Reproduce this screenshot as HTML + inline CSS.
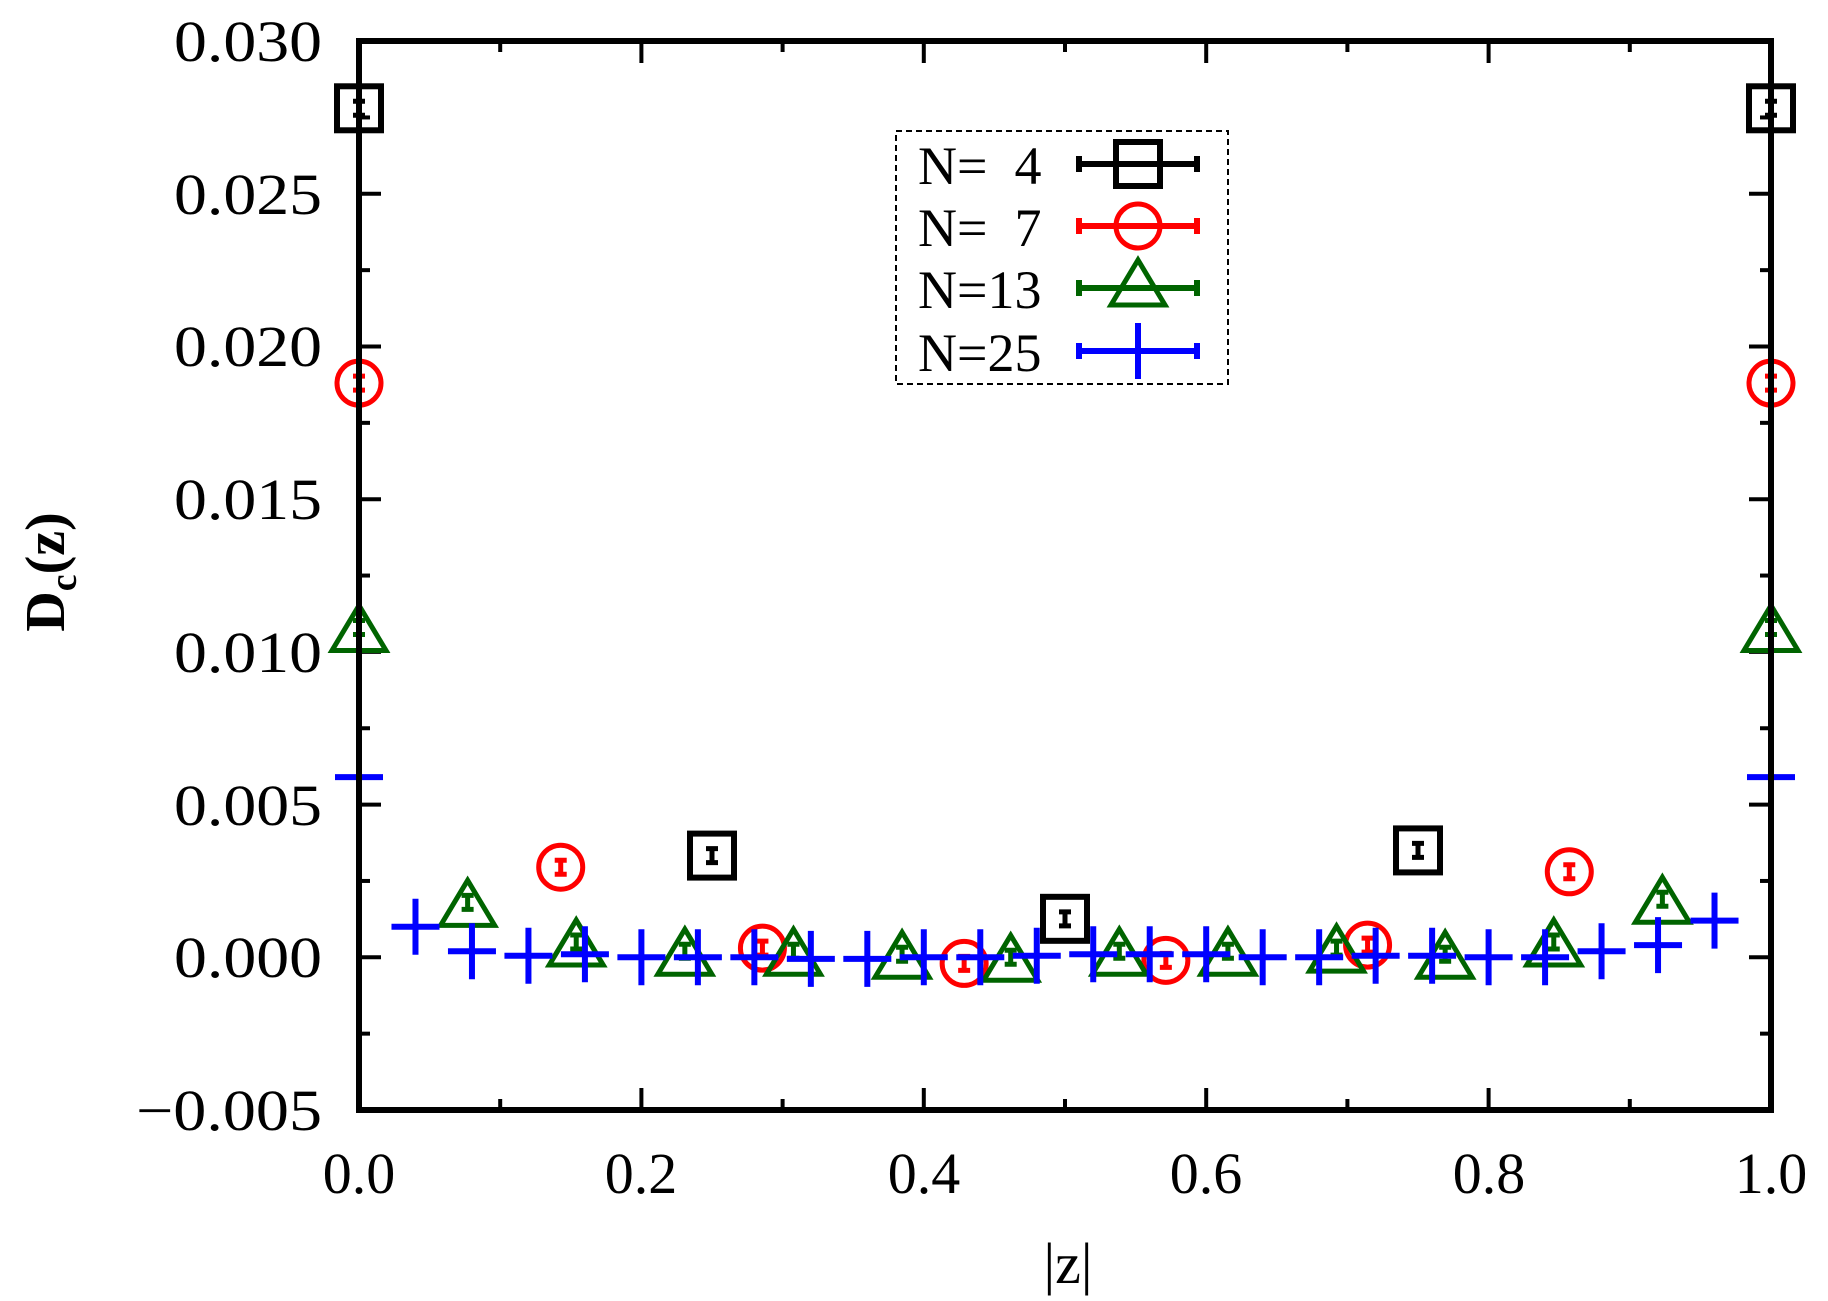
<!DOCTYPE html>
<html><head><meta charset="utf-8"><style>
html,body{margin:0;padding:0;background:#fff;}
svg{display:block;}
text{font-family:"Liberation Serif",serif;}
</style></head><body>
<svg id="s" width="1828" height="1301" viewBox="0 0 1828 1301" xmlns="http://www.w3.org/2000/svg">
<rect width="1828" height="1301" fill="#fff"/>
<g id="ticks" stroke="#000" stroke-width="4"></g>
<g font-size="58" text-anchor="end" fill="#000">
<text x="322" y="61" textLength="148" lengthAdjust="spacingAndGlyphs">0.030</text>
<text x="322" y="214" textLength="148" lengthAdjust="spacingAndGlyphs">0.025</text>
<text x="322" y="366" textLength="148" lengthAdjust="spacingAndGlyphs">0.020</text>
<text x="322" y="519" textLength="148" lengthAdjust="spacingAndGlyphs">0.015</text>
<text x="322" y="672" textLength="148" lengthAdjust="spacingAndGlyphs">0.010</text>
<text x="322" y="825" textLength="148" lengthAdjust="spacingAndGlyphs">0.005</text>
<text x="322" y="977" textLength="148" lengthAdjust="spacingAndGlyphs">0.000</text>
<text x="322" y="1130" textLength="186" lengthAdjust="spacingAndGlyphs">−0.005</text>
</g>
<g font-size="58" text-anchor="middle" fill="#000">
<text x="359" y="1193">0.0</text>
<text x="641" y="1193">0.2</text>
<text x="924" y="1193">0.4</text>
<text x="1206" y="1193">0.6</text>
<text x="1489" y="1193">0.8</text>
<text x="1771" y="1193">1.0</text>
<text x="1068" y="1283">|z|</text>
</g>
<text transform="translate(64,572) rotate(-90)" font-size="56" text-anchor="middle" font-weight="bold">D<tspan font-size="38" dy="12">c</tspan><tspan dy="-12">(z)</tspan></text>
<g id="pts"></g>
<rect x="896" y="131" width="332" height="253" fill="none" stroke="#000" stroke-width="2" stroke-dasharray="6,4"/>
<g font-size="54" fill="#000">
<text x="918" y="184" xml:space="preserve">N=  4</text>
<text x="918" y="246" xml:space="preserve">N=  7</text>
<text x="918" y="308" xml:space="preserve">N=13</text>
<text x="918" y="371" xml:space="preserve">N=25</text>
</g>
<g id="leg"></g>
<rect x="359" y="41" width="1412" height="1069" fill="none" stroke="#000" stroke-width="6"/>
</svg>
<script>
var NS="http://www.w3.org/2000/svg";
function el(p,t,a){var e=document.createElementNS(NS,t);for(var k in a)e.setAttribute(k,a[k]);p.appendChild(e);return e;}
function X(v){return 359+v*1412;}
function Y(v){return 957.3-v*30540;}
var tk=document.getElementById('ticks');
for(var i=0;i<=10;i++){var x=X(i/10),L=(i%2==0)?22:11;
 el(tk,'line',{x1:x,y1:1110,x2:x,y2:1110-L});el(tk,'line',{x1:x,y1:41,x2:x,y2:41+L});}
for(var i=0;i<=14;i++){var y=Y(-0.005+i*0.0025),L=(i%2==0)?22:11;
 el(tk,'line',{x1:359,y1:y,x2:359+L,y2:y});el(tk,'line',{x1:1771,y1:y,x2:1771-L,y2:y});}
var g=document.getElementById('pts');
function ebar(p,x,y,c){el(p,'path',{d:'M'+(x-6)+' '+(y-7)+'h12M'+(x-6)+' '+(y+7)+'h12M'+x+' '+(y-7)+'v14',stroke:c,'stroke-width':5,fill:'none'});}
function sq(p,x,y){el(p,'rect',{x:x-22,y:y-22,width:44,height:44,fill:'none',stroke:'#000','stroke-width':6});}
function ci(p,x,y){el(p,'circle',{cx:x,cy:y,r:22,fill:'none',stroke:'#f00','stroke-width':5});}
function tr(p,x,y){el(p,'path',{d:'M'+x+' '+(y-28)+'L'+(x+27)+' '+(y+17)+'L'+(x-27)+' '+(y+17)+'Z',fill:'none',stroke:'#006400','stroke-width':5});}
function pl(p,x,y,noV){el(p,'path',{d:'M'+(x-24)+' '+y+'h48'+(noV?'':'M'+x+' '+(y-28)+'v56'),stroke:'#00f','stroke-width':6,fill:'none'});}
var n4=[0.0278,0.00333,0.00126,0.0035,0.0278];
n4.forEach(function(v,k){var x=X(k/4),y=Y(v);sq(g,x,y);ebar(g,x,y,'#000');});
var n7=[0.0188,0.00295,0.0003,-0.0002,-0.0001,0.0004,0.0028,0.0188];
n7.forEach(function(v,k){var x=X(k/7),y=Y(v);ci(g,x,y);ebar(g,x,y,'#f00');});
var n13=[0.0108,0.0018,0.0005,0.0002,0.0002,0.0001,0.0,0.0002,0.0002,0.0003,0.0001,0.0005,0.0019,0.0108];
n13.forEach(function(v,k){var x=X(k/13),y=Y(v);tr(g,x,y+6);ebar(g,x,y,'#006400');});
var n25=[0.0059,0.001,0.0002,0.00005,0.0001,0,0,0,-0.00005,-0.00005,0,0,0.00005,0.0001,0.0001,0.0001,0,0,0.00005,0.00005,0,0.0,0.0002,0.0004,0.0012,0.0059];
for(var k=0;k<=25;k++){var v=n25[k];var x=X(k/25),y=Y(v);pl(g,x,y,(k==0||k==25));}
var lg=document.getElementById('leg');
var rows=[164,226,288,351];
rows.forEach(function(y,i){var c=['#000','#f00','#006400','#00f'][i];
 el(lg,'path',{d:'M1079 '+y+'h118M1079 '+(y-8)+'v16M1197 '+(y-8)+'v16',stroke:c,'stroke-width':6,fill:'none'});
 if(i==0)sq(lg,1138,y);if(i==1)ci(lg,1138,y);if(i==2)tr(lg,1138,y);if(i==3)pl(lg,1138,y);});
</script>
</body></html>
